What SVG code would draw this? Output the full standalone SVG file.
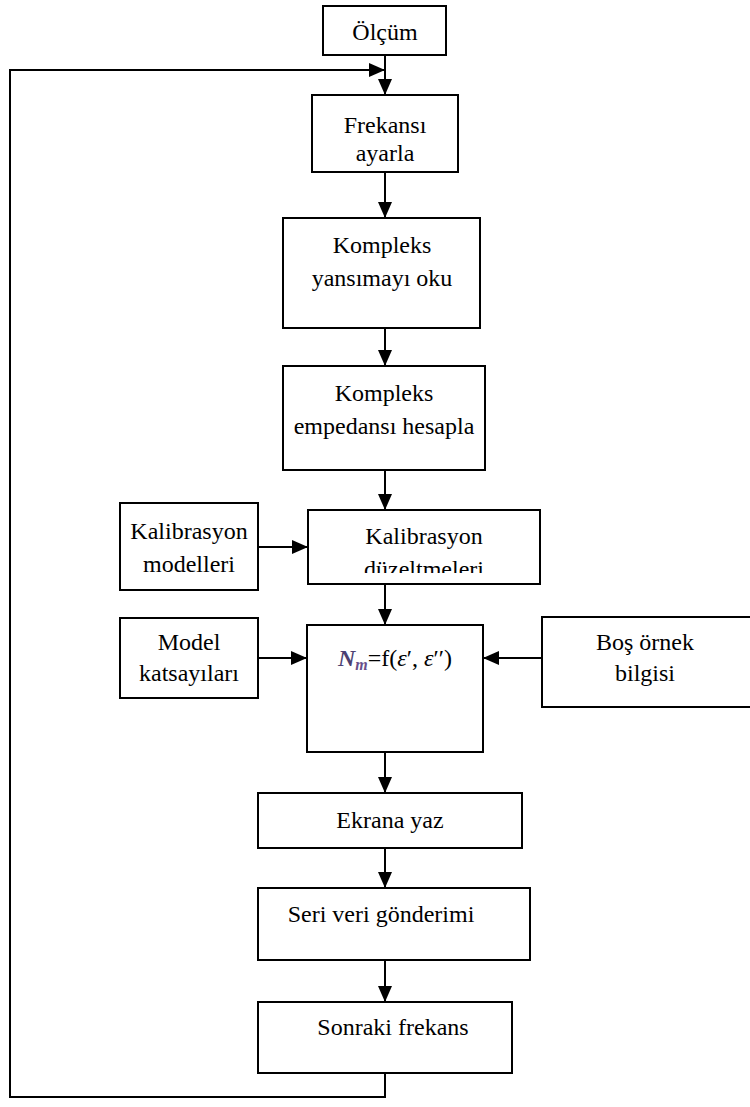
<svg xmlns="http://www.w3.org/2000/svg" width="750" height="1107" viewBox="0 0 750 1107">
<style>
.box{fill:#fff;stroke:#000;stroke-width:2}
.t{font-family:"Liberation Serif","Times New Roman",serif;font-size:24px;fill:#000;text-anchor:middle}
.c{fill:none;stroke:#000;stroke-width:2}
</style>
<defs>
<marker id="ah" markerUnits="userSpaceOnUse" markerWidth="16" markerHeight="14" refX="16" refY="7" orient="auto">
<path d="M0,0 L16,7 L0,14 z" fill="#000"/>
</marker>
<clipPath id="clipKal"><rect x="308" y="510" width="232" height="63"/></clipPath>
</defs>
<rect width="750" height="1107" fill="#fff"/>
<g id="connectors">
<line class="c" x1="385" y1="55" x2="385" y2="95" marker-end="url(#ah)"/>
<polyline class="c" points="385,1073 385,1097 10,1097 10,70 385,70" marker-end="url(#ah)"/>
<line class="c" x1="385" y1="172" x2="385" y2="218" marker-end="url(#ah)"/>
<line class="c" x1="385" y1="328" x2="385" y2="366" marker-end="url(#ah)"/>
<line class="c" x1="385" y1="470" x2="385" y2="510" marker-end="url(#ah)"/>
<line class="c" x1="258" y1="547" x2="308" y2="547" marker-end="url(#ah)"/>
<line class="c" x1="385" y1="584" x2="385" y2="625" marker-end="url(#ah)"/>
<line class="c" x1="258" y1="658" x2="307" y2="658" marker-end="url(#ah)"/>
<line class="c" x1="542" y1="658" x2="483" y2="658" marker-end="url(#ah)"/>
<line class="c" x1="385" y1="752" x2="385" y2="793" marker-end="url(#ah)"/>
<line class="c" x1="385" y1="848" x2="385" y2="888" marker-end="url(#ah)"/>
<line class="c" x1="385" y1="960" x2="385" y2="1002" marker-end="url(#ah)"/>
</g>
<g id="olcum">
<rect class="box" x="323" y="6" width="123" height="49"/>
<text class="t" x="385" y="40">Ölçüm</text>
</g>
<g id="frekansi-ayarla">
<rect class="box" x="312" y="95" width="146" height="77"/>
<text class="t" x="385" y="133">Frekansı</text>
<text class="t" x="385" y="161">ayarla</text>
</g>
<g id="kompleks-yansima">
<rect class="box" x="283" y="218" width="197" height="110"/>
<text class="t" x="382" y="253">Kompleks</text>
<text class="t" x="382" y="286">yansımayı oku</text>
</g>
<g id="kompleks-empedans">
<rect class="box" x="283" y="366" width="202" height="104"/>
<text class="t" x="384" y="401">Kompleks</text>
<text class="t" x="384" y="434">empedansı hesapla</text>
</g>
<g id="kalibrasyon-modelleri">
<rect class="box" x="120" y="503" width="138" height="87"/>
<text class="t" x="189" y="539">Kalibrasyon</text>
<text class="t" x="189" y="572">modelleri</text>
</g>
<g id="kalibrasyon-duzeltmeleri">
<rect class="box" x="308" y="510" width="232" height="74"/>
<text class="t" x="424" y="544">Kalibrasyon</text>
<text class="t" x="424" y="577" clip-path="url(#clipKal)">düzeltmeleri</text>
</g>
<g id="model-katsayilari">
<rect class="box" x="120" y="618" width="138" height="80"/>
<text class="t" x="189" y="650">Model</text>
<text class="t" x="189" y="681">katsayıları</text>
</g>
<g id="formul">
<rect class="box" x="307" y="625" width="176" height="127"/>
<text class="t" x="395" y="666"><tspan font-weight="bold" font-style="italic" fill="#4b3f72">N</tspan><tspan font-weight="bold" font-style="italic" font-size="16" dy="4" fill="#6a4f8a">m</tspan><tspan dy="-4">=f(</tspan><tspan font-style="italic">ε</tspan>′, <tspan font-style="italic">ε</tspan>′′)</text>
</g>
<g id="bos-ornek">
<rect class="box" x="542" y="617" width="220" height="90"/>
<text class="t" x="645" y="650">Boş örnek</text>
<text class="t" x="645" y="681">bilgisi</text>
</g>
<g id="ekrana-yaz">
<rect class="box" x="258" y="793" width="264" height="55"/>
<text class="t" x="390" y="828">Ekrana yaz</text>
</g>
<g id="seri-veri">
<rect class="box" x="258" y="888" width="272" height="72"/>
<text class="t" x="381" y="922">Seri veri gönderimi</text>
</g>
<g id="sonraki-frekans">
<rect class="box" x="258" y="1002" width="254" height="71"/>
<text class="t" x="393" y="1035">Sonraki frekans</text>
</g>
</svg>
